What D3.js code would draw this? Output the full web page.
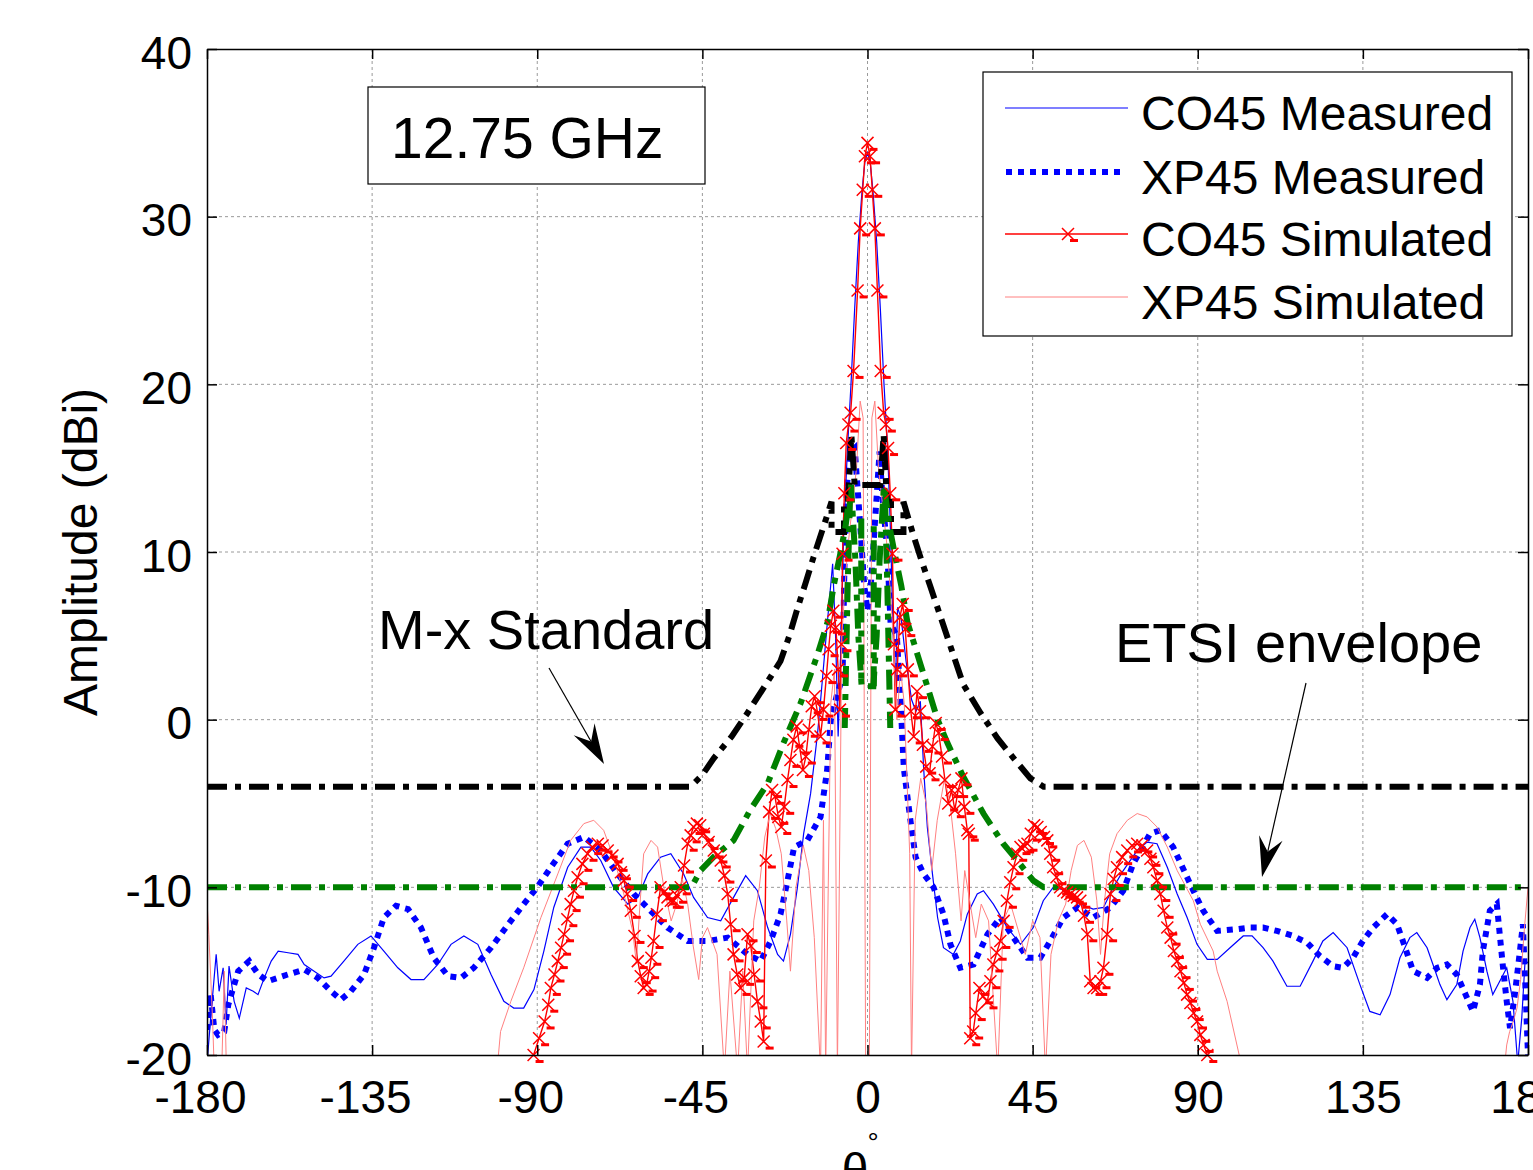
<!DOCTYPE html>
<meta charset="utf-8">
<script src="https://d3js.org/d3.v7.min.js"></script>
<style>
body { margin: 0; background: #fff; }
svg text { font-family: "Liberation Sans", Arial, sans-serif; fill: #000; }
</style>
<body>
<div id="pattern-chart"></div>
<script>
// x ticks / y ticks
var xTicks = [-180, -135, -90, -45, 0, 45, 90, 135, 180];
var yTicks = [-20, -10, 0, 10, 20, 30, 40];

// CO45 measured (thin blue)
var coMeasTheta = [-180, -179, -177.5, -176.7, -175.6, -174.8, -174, -172.6, -171.2, -169.3, -167.4, -166.1, -164.4, -162.5, -160.6, -157.9, -155.2, -153.5, -150.8, -148.1, -146.2, -142.7, -138.9, -135.3, -131.8, -128, -124.4, -120.9, -117.1, -113.5, -110, -106.2, -102.6, -99.1, -96.4, -93.7, -90.9, -88.2, -85.5, -81.7, -78.1, -75.4, -72.7, -69.2, -65.3, -62.6, -59.9, -56.4, -53.6, -50.1, -47.4, -43.6, -40, -36.5, -33.2, -30, -27.2, -24.5, -22.9, -21, -19.1, -17.4, -15.5, -13.6, -12.8, -10.9, -9.5, -8.7, -8, -7.4, -6.5, -5.5, -4.5, -3.5, -2.5, -1.5, -0.7, 0, 0.7, 1.5, 2.5, 3.5, 4.5, 5.5, 6.3, 7, 7.6, 8.2, 9.2, 10.5, 12, 13.2, 14.4, 15.3, 16.3, 17.7, 19.1, 20.7, 23.4, 25.3, 27.2, 29.9, 31.6, 34.3, 38.1, 41.7, 45.2, 47.9, 50.6, 54.5, 58, 61.5, 64.3, 67, 69.7, 73.5, 76.2, 78.9, 81.7, 84.4, 87.1, 89.8, 92.6, 95.3, 98.8, 102.4, 104.8, 107.8, 110.5, 114.3, 117.9, 121.4, 124.1, 126.9, 130.7, 134.2, 136.9, 139.7, 142.4, 145.1, 147.8, 149.7, 152.5, 154.1, 156, 157.9, 160.6, 162.3, 164.2, 165.5, 166.9, 168.8, 170.4, 172.3, 174.2, 175.9, 177.2, 178.3, 179.2, 180];
var coMeasAmp = [-20.5, -17.8, -14, -16.2, -14.8, -18.2, -14.7, -16.8, -17.8, -16, -16.2, -16.4, -15.4, -14.4, -13.8, -13.9, -14, -14.6, -15, -15.4, -15.3, -14.4, -13.4, -12.9, -13.8, -14.8, -15.5, -15.5, -14.6, -13.4, -12.9, -13.4, -15.2, -16.8, -17.2, -17.2, -16.1, -13.8, -11.2, -8.8, -7.6, -7.6, -8.4, -10, -11, -10.6, -9.2, -8.2, -8, -9.2, -10.6, -11.8, -12, -10.6, -9.3, -10.2, -12.4, -14, -14.4, -12.8, -10, -6.8, -4.4, -0.8, 1.1, 5.9, 9.3, 5, -1, 3, 11, 16, 20, 24.5, 28.5, 31.5, 33.3, 33.8, 33.3, 31.5, 28.5, 24.5, 20, 16, 11, 5, 2, 6.7, 6, 3.5, 1.2, 0.5, 1.1, -2.9, -6.4, -9.2, -11.8, -13.6, -14, -13.2, -11.6, -10.4, -10.2, -11, -12.4, -13.4, -12.4, -10.8, -10, -10.2, -11, -11.3, -11.2, -10, -9, -7.8, -7.3, -7.4, -8.8, -10.4, -11.8, -13.4, -14.3, -14.3, -13.6, -12.9, -12.9, -13.6, -14.4, -15.9, -15.9, -14.4, -13.2, -12.7, -13.6, -15.8, -17.4, -17.6, -16.4, -14.2, -13, -12.7, -13.6, -14.6, -15.8, -16.7, -15.8, -13.8, -12.4, -11.9, -13, -15, -16.4, -15.6, -14.8, -16.8, -20.5, -17.8, -14.4, -14.5];

// XP45 measured (thick blue dots)
var xpMeasTheta = [-180, -179, -178, -177, -175.3, -174.2, -173.4, -171.5, -168.5, -166, -163.4, -158, -153.5, -149.8, -146.2, -143.5, -140.8, -137.2, -134.5, -131.8, -128.5, -125.2, -121.7, -118.2, -114.3, -110.8, -107.3, -102.6, -97.2, -93.7, -90, -86.3, -81.7, -77.3, -72.7, -68.1, -63.7, -59.1, -54.5, -49, -43.6, -38.1, -32.7, -29.1, -26.4, -23.7, -21.8, -20, -16.4, -12.8, -11, -10, -8.3, -6.8, -6.3, -5.6, -4.5, -3.5, -2.6, -1.8, -0.9, 0, 0.9, 1.8, 2.7, 3.3, 4, 5.4, 6.3, 8, 9, 9.9, 11.7, 13.1, 15.3, 18, 20.7, 22.6, 25.3, 28.9, 32.7, 36.2, 39.8, 43.6, 47.1, 49.8, 53.4, 57.2, 61.5, 66.2, 69.7, 72.4, 77, 79.8, 83.3, 87.1, 88.8, 91.5, 95.3, 100.7, 104.3, 107.8, 111.6, 116, 119.8, 123.3, 126.9, 129.6, 132.3, 135, 137.8, 141.6, 144.3, 145.9, 148.7, 152.5, 155.2, 157.9, 160.6, 163.4, 165, 166.9, 167.7, 169.6, 171.5, 172.3, 173.2, 174.2, 175.1, 176.4, 177.8, 178.6, 179.3, 180];
var xpMeasAmp = [-18.5, -16.4, -18.5, -18.8, -18.6, -17, -16.4, -15, -14.4, -15.2, -15.6, -15.2, -14.9, -15.4, -16.2, -16.7, -16.2, -15.2, -13.6, -11.8, -11.1, -11.3, -12.4, -14.2, -15.3, -15.4, -14.8, -13.6, -12, -11, -10, -8.8, -7.4, -7, -7.8, -9.2, -10.4, -11.4, -12.4, -13.2, -13.2, -13, -14, -14.4, -13.2, -11.6, -9.6, -7.6, -7.2, -5.8, -3, 0, 1.5, 2.5, 9, 14, 16, 16.2, 13.5, 11, 8, 6.5, 8, 11, 14, 16, 13.5, 10, 5.7, 5, 1.1, -2.9, -6, -8.2, -9.2, -10, -11.6, -13.4, -14.8, -14.6, -12.8, -11.8, -13, -14.2, -14.2, -13.2, -11.8, -11.2, -11.8, -11.2, -10.2, -8.6, -6.8, -6.6, -7.6, -9.4, -10.2, -11.4, -12.6, -12.5, -12.4, -12.4, -12.6, -12.9, -13.3, -14.1, -14.7, -14.8, -14.2, -13.2, -12.4, -11.6, -12.2, -13.2, -15, -15.4, -14.8, -14.6, -15.2, -16.6, -17.4, -15.8, -13.8, -11.4, -11, -12.8, -14.8, -16.8, -18.4, -16.4, -13.8, -12.2, -16, -20];

// CO45 simulated (red with x markers)
var coSimTheta = [-94, -91, -89.5, -88, -87, -86.3, -85.3, -84.4, -83.5, -82.7, -81.8, -80.9, -80, -79, -77.7, -76.3, -75, -73.5, -72.2, -70.8, -69.5, -68.1, -67.2, -66.4, -65.5, -64.5, -63.5, -62.6, -61.8, -61, -60.2, -59.5, -58.9, -58.3, -57.4, -56.4, -55.5, -54.5, -53.6, -52.8, -51.9, -50.9, -50, -49, -48.2, -47.4, -46.5, -45.6, -44.6, -43.3, -41.9, -40.9, -40, -39, -38.1, -37.3, -36.5, -35.5, -34.6, -33.6, -32.7, -31.8, -30.9, -30, -29.1, -28.3, -27.7, -26.8, -26, -25.2, -24.3, -23.5, -22.7, -21.8, -21, -20.2, -19.3, -18.5, -17.6, -16.8, -16, -15.2, -14.4, -13.6, -12.8, -12, -11.2, -10.6, -10, -9.3, -8.6, -8, -7.5, -7.1, -6.8, -6.3, -5.8, -5.2, -4.6, -3.8, -2.7, -2, -1.3, -0.7, 0, 0.7, 1.3, 2, 2.7, 3.6, 4.4, 5, 5.6, 6.2, 6.8, 7.2, 7.6, 8.1, 8.8, 9.6, 10.3, 11, 11.8, 12.6, 13.5, 14.3, 15.1, 16, 16.9, 17.7, 18.6, 19.4, 20.3, 21.1, 22, 22.9, 23.8, 24.7, 25.6, 26.4, 27.2, 27.6, 28, 28.8, 29.5, 30.5, 31.5, 32.7, 33.5, 34.3, 35.2, 36.2, 37.1, 38, 38.9, 39.8, 40.8, 41.7, 42.7, 43.6, 44.5, 45.4, 46.3, 47.2, 48.1, 49, 49.8, 50.6, 51.5, 52.5, 53.4, 54.4, 55.3, 56.2, 57.1, 58, 59, 59.9, 60.7, 61.6, 62.6, 63.5, 64.3, 65.3, 66.2, 67.1, 68, 69.4, 70.8, 72.1, 73.5, 74.9, 76.2, 77.1, 77.9, 78.9, 79.8, 80.7, 81.7, 82.6, 83.5, 84.4, 85.3, 86.2, 87.1, 88, 88.9, 89.8, 90.7, 91.6, 92.6, 94];
var coSimAmp = [-22, -20, -19, -18, -17, -16, -15.2, -14.4, -13.6, -12.8, -11.9, -11, -10.2, -9.4, -8.6, -8, -7.6, -7.4, -7.5, -7.8, -8.1, -8.6, -9.1, -9.6, -10.4, -11.4, -12.9, -14.4, -15.3, -16, -15.8, -15, -14.2, -13.2, -11.6, -10, -10.3, -10.6, -10.8, -10.8, -10.5, -10, -8.7, -7.4, -6.9, -6.4, -6.2, -6.3, -6.8, -7.3, -7.8, -8.1, -8.4, -9.3, -10.4, -12.2, -14, -15.2, -16, -15.4, -12.8, -13.5, -15.2, -16.8, -18, -19.2, -8.4, -5.5, -4.2, -4.6, -5.8, -6.4, -5.2, -3.6, -2.4, -1.2, -0.4, -1.6, -3, -2.2, -0.6, 0.8, 1.4, 0.4, -1, 0.6, 2.6, 4.2, 5.6, 6.5, 5.5, 3, 0.6, 4.5, 9.9, 13.5, 16.5, 17.6, 18.3, 20.8, 25.6, 29.3, 31.6, 33.6, 34.4, 33.6, 31.6, 29.3, 25.6, 20.8, 18.3, 17.6, 16.2, 13.5, 9.9, 4.5, 0.6, 3, 6.1, 6.9, 5.4, 3, 0.5, -1, 1.7, 0.5, -1.5, -2.8, -3.2, -1.6, -0.2, -0.8, -2.2, -3.6, -5, -4.2, -5.4, -4.2, -3.5, -5.2, -6.6, -6.8, -19, -18.6, -17.5, -16, -16.5, -16.8, -15.6, -14.6, -13.9, -13.2, -12, -10.8, -9.7, -8.8, -8, -7.6, -7.5, -7.4, -6.8, -6.3, -6.4, -6.7, -7, -7.2, -8, -8.8, -9.4, -10, -10.2, -10.3, -10.4, -10.5, -10.6, -10.8, -11.7, -12.8, -15.6, -16, -16, -15.6, -14.8, -12.8, -10.4, -9.5, -8.8, -8.2, -7.8, -7.5, -7.4, -7.5, -7.8, -8.3, -8.8, -9.6, -10.4, -11.4, -12.4, -13, -13.8, -14.4, -15, -15.7, -16.4, -16.9, -17.5, -18, -18.8, -19.4, -20, -22];

// XP45 simulated (thin light red)
var xpSimTheta = [-180, -179.5, -178.5, -178, -176, -175.3, -174.7, -101, -100, -97.2, -93.7, -89, -84.4, -80.9, -77.3, -74.6, -71.9, -69.2, -66.4, -64, -63, -62, -61, -59, -57.2, -55.5, -53.5, -52, -50.5, -49, -47.5, -46, -45, -43.6, -41, -39, -37.5, -35.4, -34, -32.7, -31, -29.5, -28, -26.5, -25, -23.5, -22, -21, -19.5, -17.5, -16, -14.5, -12.8, -12, -11.4, -10, -9, -8.2, -7, -5.5, -4, -3, -2, -1.2, -0.5, 0.5, 1.2, 2, 3, 4, 5.5, 7, 8, 9, 10, 11.5, 12, 13, 14.5, 16, 17.5, 19, 21, 22.5, 24, 25.5, 26.5, 28, 29.5, 31, 33, 35.5, 37, 39, 41, 43, 45, 47, 48.5, 50, 52, 54, 55.5, 57.2, 59, 61, 62.5, 63.5, 64.5, 66, 68, 70.8, 73.5, 76.2, 78.9, 81.7, 84.4, 88.8, 90.7, 94.2, 95.3, 98, 101.5, 103, 173, 174.2, 175, 176, 177, 178, 179, 180];
var xpSimAmp = [-10.8, -12.8, -17.8, -21, -21, -15, -21, -21, -18.6, -16.8, -14.8, -11.8, -9.2, -7.2, -6.2, -6, -6.6, -8.2, -10.4, -12.6, -14.5, -11, -8, -7.2, -7.6, -10, -12, -11, -9.5, -11, -13.5, -15.5, -13, -12.4, -14, -21, -15, -21, -15, -21, -12, -10, -7, -5.6, -6.5, -8, -12, -15, -10, -7.5, -9, -13, -21, -6, -21, 1, 3, -21, 5, 10, 13, 15, 19, 18, -21, -21, 18, 19, 15, 13, 10, 5, 0, 3, 1, -8, -21, -6, -3.5, -5, -9, -6, -3.5, -5, -8, -12, -9, -11, -13, -11, -12, -21, -12, -11, -12.5, -14, -12, -13, -21, -14, -12, -11, -9, -7.5, -7.2, -8.2, -10.8, -14, -11, -8, -6.8, -6, -5.6, -5.8, -6.4, -7.6, -9, -10.8, -12.2, -13.8, -15, -16.8, -20.2, -22, -22, -19.4, -18.6, -18, -17.2, -15.5, -12.5, -10];

// M-x standard mask (black)
var mxTheta = [-180, -48.2, -45, -41.9, -37, -32.7, -28, -23.7, -21.3, -19, -16.8, -14.7, -12, -9.8, -9.8, -6.4, -6.4, -5.3, -4.4, -3.5, 3.5, 4.4, 5.3, 6.4, 6.4, 9.8, 9.8, 12.5, 14.7, 17.2, 21.8, 26.1, 30.8, 35.4, 39.8, 44.4, 48, 180];
var mxAmp = [-4, -4, -3.3, -2.3, -1, 0.4, 2, 3.5, 5, 6.7, 8.2, 9.7, 11.5, 13, 11.2, 11.2, 13, 13, 17, 14, 14, 17, 13, 13, 11.2, 11.2, 13, 11, 9.5, 7.9, 4.9, 2.1, 0.4, -1.1, -2.3, -3.5, -4, -4];

// ETSI envelope (green)
var etsiTheta = [-180, -48, -45.5, -42, -36.5, -32, -27.2, -22.9, -18.2, -13.6, -10.9, -9.2, -7.5, -6, -4.5, -3.3, -2.5, -1.6, 1.6, 2.5, 3.3, 4.5, 6, 7.5, 9.2, 10.9, 13.6, 19.1, 21.8, 26.1, 31.6, 37, 40.8, 45.2, 48, 180];
var etsiAmp = [-10, -10, -9, -8.2, -7.2, -5.4, -3.8, -1.4, 1, 3.9, 5.8, 8, 9.8, 11.5, 14, 9.5, 5, 2, 2, 5, 9.5, 14, 11.5, 9.8, 8, 5.8, 3.9, 0, -1.4, -3.4, -5.6, -7.4, -8.4, -9.6, -10, -10];
var etsiXpTheta = [-6.2, -5.4, -4.8, NaN, -1.7, -1.7, NaN, 1.7, 1.7, NaN, 4.8, 5.4, 6.2];
var etsiXpAmp = [-0.5, 8, 13, NaN, 12, 2, NaN, 2, 12, NaN, 13, 8, -0.5];

var W = 1533, H = 1170;
var plotLeft = 207, plotTop = 49, width = 1528 - 207, height = 1055 - 49;

var svg = d3.select("#pattern-chart").append("svg")
    .attr("width", W).attr("height", H);
var g = svg.append("g").attr("transform", "translate(" + plotLeft + "," + plotTop + ")");

var x = d3.scaleLinear().domain([-180, 180]).range([0, width]);
var y = d3.scaleLinear().domain([-20, 40]).range([height, 0]);

function pairs(t, a) { return t.map(function(d, i) { return [d, a[i]]; }); }
var line = d3.line()
    .defined(function(d) { return !isNaN(d[0]); })
    .x(function(d) { return x(d[0]); }).y(function(d) { return y(d[1]); });

svg.append("defs").append("clipPath").attr("id", "plotclip")
  .append("rect").attr("width", width).attr("height", height);

// grid
var grid = g.append("g").attr("stroke", "#9a9a9a").attr("stroke-width", 1).attr("stroke-dasharray", "3,3");
grid.selectAll("line.vx").data(xTicks.slice(1, -1)).enter().append("line")
  .attr("x1", function(d) { return x(d); }).attr("x2", function(d) { return x(d); })
  .attr("y1", 0).attr("y2", height);
grid.selectAll("line.hy").data(yTicks.slice(1, -1)).enter().append("line")
  .attr("y1", function(d) { return y(d); }).attr("y2", function(d) { return y(d); })
  .attr("x1", 0).attr("x2", width);

var plot = g.append("g").attr("clip-path", "url(#plotclip)");

plot.append("path").datum(pairs(coMeasTheta, coMeasAmp)).attr("d", line)
  .attr("fill", "none").attr("stroke", "#0000ff").attr("stroke-width", 1.2);
plot.append("path").datum(pairs(xpMeasTheta, xpMeasAmp)).attr("d", line)
  .attr("fill", "none").attr("stroke", "#0000ff").attr("stroke-width", 6).attr("stroke-dasharray", "6,6");
plot.append("path").datum(pairs(coSimTheta, coSimAmp)).attr("d", line)
  .attr("fill", "none").attr("stroke", "#ff0000").attr("stroke-width", 1.4);
plot.append("path").datum(pairs(xpSimTheta, xpSimAmp)).attr("d", line)
  .attr("fill", "none").attr("stroke", "#ff8080").attr("stroke-width", 1);

function marker(sel) {
  sel.append("path").attr("d", "M-6,-6L6,6M-6,6L6,-6")
    .attr("stroke", "#ff0000").attr("stroke-width", 1.5).attr("fill", "none");
  sel.append("rect").attr("x", 2).attr("y", 5).attr("width", 8).attr("height", 3).attr("fill", "#ff0000");
}
var mk = g.append("g");
mk.selectAll("g").data(pairs(coSimTheta, coSimAmp).filter(function(d) { return d[1] >= -20.3; }))
  .enter().append("g")
  .attr("transform", function(d) { return "translate(" + x(d[0]) + "," + y(d[1]) + ")"; })
  .call(marker);

plot.append("path").datum(pairs(mxTheta, mxAmp)).attr("d", line)
  .attr("fill", "none").attr("stroke", "#000").attr("stroke-width", 6).attr("stroke-dasharray", "20,8,6,8");
plot.append("path").datum(pairs(etsiTheta, etsiAmp)).attr("d", line)
  .attr("fill", "none").attr("stroke", "#008000").attr("stroke-width", 6).attr("stroke-dasharray", "20,8,6,8");
plot.append("path").datum(pairs(etsiXpTheta, etsiXpAmp)).attr("d", line)
  .attr("fill", "none").attr("stroke", "#008000").attr("stroke-width", 6).attr("stroke-dasharray", "20,8,6,8");

// axes
function styleAxis(a) {
  a.select(".domain").attr("stroke", "#000").attr("stroke-width", 1.5);
  a.selectAll(".tick line").attr("stroke", "#000").attr("stroke-width", 1.5);
  a.selectAll("text").attr("font-size", 46).attr("font-family", "Liberation Sans, Arial, sans-serif").attr("fill", "#000");
}
var xb = g.append("g").attr("transform", "translate(0," + height + ")")
  .call(d3.axisBottom(x).tickValues(xTicks).tickSizeInner(-10).tickSizeOuter(0).tickPadding(25)
    .tickFormat(function(d) { return String(d); }));
styleAxis(xb);
xb.selectAll("text").attr("dx", function(d) { return d < 0 ? -7 : 0; });
var yl = g.append("g")
  .call(d3.axisLeft(y).tickValues(yTicks).tickSizeInner(-10).tickSizeOuter(0).tickPadding(15)
    .tickFormat(function(d) { return String(d); }));
styleAxis(yl);
yl.selectAll("text").attr("dy", "0.42em");
styleAxis(g.append("g").call(d3.axisTop(x).tickValues(xTicks).tickSizeInner(-10).tickSizeOuter(0).tickFormat("")));
styleAxis(g.append("g").attr("transform", "translate(" + width + ",0)")
  .call(d3.axisRight(y).tickValues(yTicks).tickSizeInner(-10).tickSizeOuter(0).tickFormat("")));

// axis labels
svg.append("text").attr("transform", "translate(97,552) rotate(-90)")
  .attr("text-anchor", "middle").attr("font-size", 48).text("Amplitude (dBi)");
svg.append("text").attr("x", 855).attr("y", 1187).attr("text-anchor", "middle").attr("font-size", 48).text("θ");
svg.append("text").attr("x", 873).attr("y", 1152).attr("text-anchor", "middle").attr("font-size", 28).text("°");

// frequency box
svg.append("rect").attr("x", 368).attr("y", 87).attr("width", 337).attr("height", 97)
  .attr("fill", "#fff").attr("stroke", "#000").attr("stroke-width", 1.2);
svg.append("text").attr("x", 391).attr("y", 158).attr("font-size", 57).text("12.75 GHz");

// legend
var lg = svg.append("g");
lg.append("rect").attr("x", 983).attr("y", 72).attr("width", 529).attr("height", 264)
  .attr("fill", "#fff").attr("stroke", "#000").attr("stroke-width", 1.2);
var legendNames = ["CO45 Measured", "XP45 Measured", "CO45 Simulated", "XP45 Simulated"];
var legendY = [108, 172, 234, 297];
lg.append("line").attr("x1", 1005).attr("x2", 1128).attr("y1", legendY[0]).attr("y2", legendY[0])
  .attr("stroke", "#0000ff").attr("stroke-width", 1.2);
lg.append("line").attr("x1", 1006).attr("x2", 1122).attr("y1", legendY[1]).attr("y2", legendY[1])
  .attr("stroke", "#0000ff").attr("stroke-width", 6).attr("stroke-dasharray", "6,6");
lg.append("line").attr("x1", 1005).attr("x2", 1128).attr("y1", legendY[2]).attr("y2", legendY[2])
  .attr("stroke", "#ff0000").attr("stroke-width", 1.4);
lg.append("g").attr("transform", "translate(1068," + legendY[2] + ")").call(marker);
lg.append("line").attr("x1", 1005).attr("x2", 1128).attr("y1", legendY[3]).attr("y2", legendY[3])
  .attr("stroke", "#ff8080").attr("stroke-width", 1);
lg.selectAll("text").data(legendNames).enter().append("text")
  .attr("x", 1141).attr("y", function(d, i) { return legendY[i] + 22; })
  .attr("font-size", 48).text(function(d) { return d; });

// annotations with arrows
function arrow(x0, y0, x1, y1) {
  var dx = x1 - x0, dy = y1 - y0, len = Math.sqrt(dx * dx + dy * dy);
  var ux = dx / len, uy = dy / len, px = -uy, py = ux;
  var L = 40, w = 12, n = 26;
  svg.append("line").attr("x1", x0).attr("y1", y0).attr("x2", x1 - ux * n).attr("y2", y1 - uy * n)
    .attr("stroke", "#000").attr("stroke-width", 1.2);
  var bx = x1 - ux * L, by = y1 - uy * L;
  svg.append("path").attr("d", "M" + x1 + "," + y1 +
      "L" + (bx + px * w) + "," + (by + py * w) +
      "L" + (x1 - ux * n) + "," + (y1 - uy * n) +
      "L" + (bx - px * w) + "," + (by - py * w) + "Z")
    .attr("fill", "#000");
}
svg.append("text").attr("x", 378).attr("y", 649).attr("font-size", 56).text("M-x Standard");
arrow(549, 668, 604, 764);
svg.append("text").attr("x", 1115).attr("y", 662).attr("font-size", 56).text("ETSI envelope");
arrow(1306, 683, 1262, 877);
</script>
</body>
